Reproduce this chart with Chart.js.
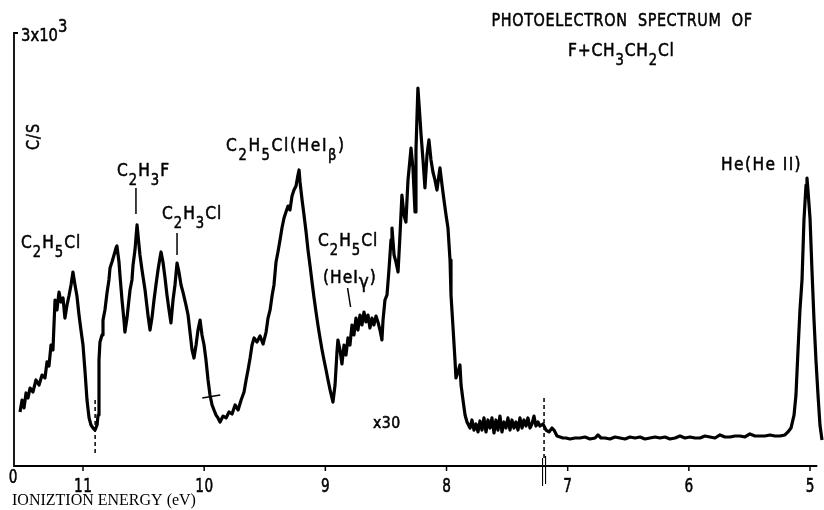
<!DOCTYPE html>
<html>
<head>
<meta charset="utf-8">
<script src="https://cdn.jsdelivr.net/npm/chart.js@4/dist/chart.umd.min.js"></script>
<style>
html,body{margin:0;padding:0;background:#fff;}
#wrap{width:824px;height:510px;position:relative;}
</style>
</head>
<body>
<div id="wrap"><canvas id="c" width="824" height="510"></canvas></div>
<script>
// ---- data (ionization energy in eV, counts per second) ----
const energyEV = [
11.520,11.503,11.487,11.470,11.454,11.437,11.413,11.388,11.363,11.338,
11.314,11.297,11.281,11.264,11.248,11.231,11.215,11.198,11.182,11.165,
11.149,11.132,11.116,11.099,11.083,11.066,11.050,11.033,11.017,11.000,
10.983,10.967,10.950,10.934,10.917,10.901,10.884,10.876,10.868,10.860,
10.843,10.835,10.819,10.802,10.786,10.777,10.761,10.744,10.728,10.720,
10.703,10.695,10.678,10.662,10.654,10.637,10.621,10.612,10.596,10.587,
10.571,10.563,10.554,10.546,10.530,10.513,10.488,10.464,10.447,10.431,
10.414,10.398,10.381,10.365,10.356,10.340,10.323,10.307,10.290,10.274,
10.257,10.241,10.224,10.208,10.191,10.175,10.150,10.133,10.117,10.100,
10.084,10.067,10.051,10.034,10.018,10.001,9.985,9.968,9.952,9.935,
9.919,9.902,9.886,9.869,9.844,9.819,9.795,9.770,9.745,9.720,
9.695,9.671,9.654,9.638,9.621,9.605,9.588,9.564,9.539,9.514,
9.489,9.473,9.456,9.440,9.424,9.407,9.391,9.374,9.358,9.341,
9.325,9.308,9.292,9.275,9.259,9.242,9.226,9.217,9.209,9.192,
9.176,9.159,9.143,9.126,9.110,9.093,9.077,9.060,9.044,9.027,
9.011,8.994,8.978,8.961,8.945,8.937,8.920,8.904,8.896,8.879,
8.863,8.846,8.830,8.813,8.797,8.780,8.764,8.747,8.731,8.714,
8.698,8.681,8.665,8.648,8.632,8.615,8.599,8.582,8.566,8.549,
8.533,8.524,8.508,8.491,8.475,8.458,8.450,8.433,8.417,8.400,
8.384,8.368,8.351,8.335,8.318,8.302,8.293,8.277,8.260,8.252,
8.244,8.236,8.219,8.211,8.194,8.178,8.161,8.145,8.128,8.112,
8.095,8.079,8.062,8.054,8.037,8.021,8.004,7.988,7.971,7.963,
7.946,7.930,7.922,7.905,7.889,7.880,7.864,7.847,7.831,7.806,
7.790,7.773,7.757,7.740,7.724,7.707,7.691,7.674,7.658,7.641,
7.625,7.608,7.592,7.575,7.559,7.542,7.526,7.509,7.493,7.476,
7.460,7.443,7.427,7.410,7.394,7.377,7.361,7.344,7.328,7.311,
7.295,7.278,7.262,7.245,7.229,7.204,7.179,7.154,7.129,7.113,
7.088,7.063,7.039,7.014,6.981,6.940,6.898,6.857,6.816,6.774,
6.750,6.725,6.692,6.651,6.609,6.568,6.527,6.486,6.444,6.403,
6.362,6.321,6.279,6.238,6.197,6.156,6.114,6.073,6.032,5.991,
5.949,5.908,5.867,5.826,5.784,5.743,5.702,5.661,5.619,5.578,
5.537,5.496,5.454,5.413,5.372,5.331,5.289,5.248,5.207,5.182,
5.157,5.132,5.116,5.099,5.083,5.066,5.050,5.033,5.025,5.017,
5.000,4.984,4.967,4.951,4.934,4.918,4.901
];
const countsCS = [
374,457,402,506,471,540,513,596,561,630,
610,721,693,838,804,1150,1081,1205,1136,1164,
1025,1115,1178,1254,1344,1254,1178,1046,942,838,
651,457,333,284,263,249,284,353,734,859,
908,1011,1081,1199,1289,1372,1413,1462,1510,1524,
1413,1323,1150,1011,928,1025,1150,1219,1289,1393,
1496,1580,1670,1600,1462,1358,1219,1046,942,1025,
1150,1254,1358,1441,1483,1413,1302,1185,1081,991,
1150,1254,1406,1344,1254,1205,1115,1046,928,804,
748,838,942,1011,908,838,734,596,492,423,
388,353,333,305,346,333,374,360,423,388,
457,513,596,665,748,838,887,859,901,845,
928,1025,1081,1178,1254,1413,1483,1566,1649,1718,
1760,1801,1774,1871,1912,1940,2016,2051,1968,1843,
1739,1621,1496,1386,1275,1164,1067,970,887,804,
734,665,596,527,471,443,561,790,873,804,
707,838,769,887,838,977,908,1025,942,1046,
977,1067,998,1046,956,1025,977,1039,998,942,
873,1011,1150,1185,1358,1566,1649,1462,1413,1344,
1600,1877,1739,1690,1981,2120,2203,2065,1760,2189,
2411,2619,2411,2307,2120,1926,2155,2259,2120,2037,
1981,1912,2016,2065,1947,1843,1739,1649,1427,1185,
956,734,610,651,700,561,457,353,305,263,
319,249,291,236,312,249,333,236,319,263,
333,229,319,249,346,236,305,263,333,249,
319,263,305,249,333,263,319,277,333,263,
291,346,277,305,277,291,249,236,263,249,
208,201,194,194,187,194,194,201,187,194,
215,194,194,187,201,194,187,201,194,201,
187,194,201,194,201,187,194,208,194,201,
194,194,208,201,194,215,201,201,208,208,
201,222,208,208,208,215,208,208,215,236,
263,353,492,804,1081,1289,1704,1947,1995,1912,
1718,1358,1011,734,492,284,180
];
const xTickValues = [11, 10, 9, 8, 7, 6, 5];
const xTickLabels = ['11', '10', '9', '8', '7', '6', '5'];
const yAxisMin = 0, yAxisMax = 3000;
const yTopLabel = '3x10^3';
const yZeroLabel = '0';
const yTitle = 'C/S';
const xTitle = 'IONIZTION ENERGY (eV)';
const titleLines = ['PHOTOELECTRON  SPECTRUM  OF', 'F+CH_3CH_2Cl'];
const markerEnergies = [10.900, 7.195];   // dashed markers
const peakLabels = [
  {text: 'C_2H_5Cl', x: 21, y: 248},
  {text: 'C_2H_3F', x: 117, y: 176, lead: [10.563, 188, 214]},
  {text: 'C_2H_3Cl', x: 162, y: 219, lead: [10.224, 233, 255]},
  {text: 'C_2H_5Cl(HeI_β)', x: 226, y: 151, ls: 1.6},
  {text: 'C_2H_5Cl', x: 318, y: 246},
  {text: '(HeI_γ)', x: 323, y: 283, bigSub: true},
  {text: 'He(He II)', x: 721, y: 170, ls: 1.4}
];

// ---- text helpers ----
function parseRich(str){
  const runs=[]; let buf='';
  for(let i=0;i<str.length;i++){
    const c=str[i];
    if(c==='_'||c==='^'){
      if(buf){runs.push({t:buf,m:0});buf='';}
      let t;
      if(str[i+1]==='{'){const j=str.indexOf('}',i);t=str.slice(i+2,j);i=j;}
      else {t=str[i+1];i++;}
      runs.push({t,m:c==='_'?1:2});
    } else buf+=c;
  }
  if(buf) runs.push({t:buf,m:0});
  return runs;
}
function drawRich(ctx,str,x,y,size,opt){
  opt=opt||{};
  const sx=opt.sx!=null?opt.sx:0.8, fam=opt.family||'"DejaVu Sans"', align=opt.align||'left';
  const subS=opt.subScale||0.85, ls=opt.ls||0;
  const subDy=opt.subDy!=null?opt.subDy:0.5, supDy=opt.supDy!=null?opt.supDy:0.6;
  const runs=parseRich(str);
  const widths=runs.map(r=>{ctx.font=(r.m?size*subS:size)+'px '+fam;
    let w=0; for(const ch of r.t){w+=ctx.measureText(ch).width*sx+ls;} return w;});
  const total=widths.reduce((a,b)=>a+b,0)-ls;
  let cx=align==='center'?x-total/2:align==='right'?x-total:x;
  runs.forEach((r,k)=>{
    const s=r.m?size*subS:size;
    const dy=r.m===1?size*subDy:r.m===2?-size*supDy:0;
    ctx.save();
    ctx.font=s+'px '+fam;
    ctx.textBaseline='alphabetic';ctx.textAlign='left';ctx.fillStyle='#000';
    ctx.strokeStyle='#000';ctx.lineWidth=0.55;ctx.lineJoin='round';
    let px=cx;
    for(const ch of r.t){
      ctx.save();ctx.translate(px,y+dy);ctx.scale(sx,1);ctx.fillText(ch,0,0);ctx.strokeText(ch,0,0);ctx.restore();
      px+=ctx.measureText(ch).width*sx+ls;
    }
    ctx.restore();
    cx+=widths[k];
  });
}

const decor = {
  id:'decor',
  afterDatasetsDraw(chart){
    const ctx=chart.ctx, xs=chart.scales.x, ys=chart.scales.y;
    const x0=chart.chartArea.left, yb=ys.getPixelForValue(yAxisMin), yt=ys.getPixelForValue(yAxisMax);
    const xEnd=xs.getPixelForValue(4.94);
    ctx.save();
    ctx.strokeStyle='#000';ctx.fillStyle='#000';ctx.lineCap='butt';
    // axes
    ctx.lineWidth=1.8;
    ctx.beginPath();
    ctx.moveTo(x0+4,yt);ctx.lineTo(x0,yt);ctx.lineTo(x0,yb);ctx.lineTo(xEnd,yb);
    ctx.stroke();
    // ticks
    ctx.lineWidth=1.5;
    xTickValues.forEach((v,i)=>{
      const px=xs.getPixelForValue(v);
      ctx.beginPath();ctx.moveTo(px,yb);ctx.lineTo(px,yb+5);ctx.stroke();
      drawRich(ctx,xTickLabels[i],px,yb+26,19,{sx:0.72,align:'center',ls:0.5});
    });
    drawRich(ctx,yZeroLabel,x0-1,yb+17,19,{sx:0.72,align:'center'});
    drawRich(ctx,yTopLabel,x0+7,yt+8,18,{sx:0.82,subScale:1,supDy:0.5});
    // y title rotated
    ctx.save();
    ctx.translate(x0+25,137);ctx.rotate(-Math.PI/2);
    drawRich(ctx,yTitle,0,0,17,{sx:0.85,align:'center',ls:1});
    ctx.restore();
    // x title
    ctx.save();
    ctx.font='16px "Liberation Serif"';ctx.textAlign='left';ctx.textBaseline='alphabetic';
    ctx.fillText(xTitle,12,505);
    ctx.restore();
    // titles
    drawRich(ctx,titleLines[0],752,26,18,{sx:0.8,align:'right',ls:0.6});
    drawRich(ctx,titleLines[1],568,56,18,{sx:0.86,ls:0.8});
    // peak labels and leaders
    ctx.lineWidth=1.5;
    peakLabels.forEach(l=>{
      const o={sx:0.86,ls:l.ls!=null?l.ls:1};
      if(l.bigSub){o.subScale=1.1;o.subDy=0.3;}
      drawRich(ctx,l.text,l.x,l.y,18,o);
      if(l.lead){
        const px=xs.getPixelForValue(l.lead[0]);
        ctx.beginPath();ctx.moveTo(px,l.lead[1]);ctx.lineTo(px,l.lead[2]);ctx.stroke();
      }
    });
    // slanted leader for HeI gamma
    const pg=xs.getPixelForValue(8.80);
    ctx.beginPath();ctx.moveTo(pg-2,288);ctx.lineTo(pg+1,307);ctx.stroke();
    // x30 label
    drawRich(ctx,'x30',373,428,16,{sx:0.88,ls:0.5});
    // small cross mark on the descending curve
    const pm=xs.getPixelForValue(9.95);
    ctx.beginPath();ctx.moveTo(pm-8,398);ctx.lineTo(pm+10,395);ctx.stroke();
    // dashed markers
    ctx.lineWidth=1.5;ctx.setLineDash([4,3]);
    const pd1=xs.getPixelForValue(markerEnergies[0]);
    ctx.beginPath();ctx.moveTo(pd1,400);ctx.lineTo(pd1,456);ctx.stroke();
    const pd2=xs.getPixelForValue(markerEnergies[1]);
    ctx.beginPath();ctx.moveTo(pd2,398);ctx.lineTo(pd2,460);ctx.stroke();
    ctx.setLineDash([]);
    ctx.lineWidth=1.1;
    ctx.beginPath();ctx.moveTo(pd2-1.5,458);ctx.lineTo(pd2-1.5,486);ctx.stroke();
    ctx.beginPath();ctx.moveTo(pd2+1.5,456);ctx.lineTo(pd2+1.5,484);ctx.stroke();
    ctx.restore();
  }
};

const points = energyEV.map((e,i)=>({x:e,y:countsCS[i]}));
new Chart(document.getElementById('c'),{
  type:'line',
  data:{datasets:[{data:points,borderColor:'#000',borderWidth:3.2,pointRadius:0,tension:0,fill:false,borderJoinStyle:'round'}]},
  options:{
    responsive:false,animation:false,devicePixelRatio:1,
    layout:{padding:{left:14,right:0,top:33,bottom:44}},
    scales:{
      x:{type:'linear',reverse:true,min:4.8846,max:11.5695,display:false},
      y:{type:'linear',min:yAxisMin,max:yAxisMax,display:false}
    },
    plugins:{legend:{display:false},tooltip:{enabled:false}},
    datasets:{line:{clip:false}}
  },
  plugins:[decor]
});
</script>
</body>
</html>
